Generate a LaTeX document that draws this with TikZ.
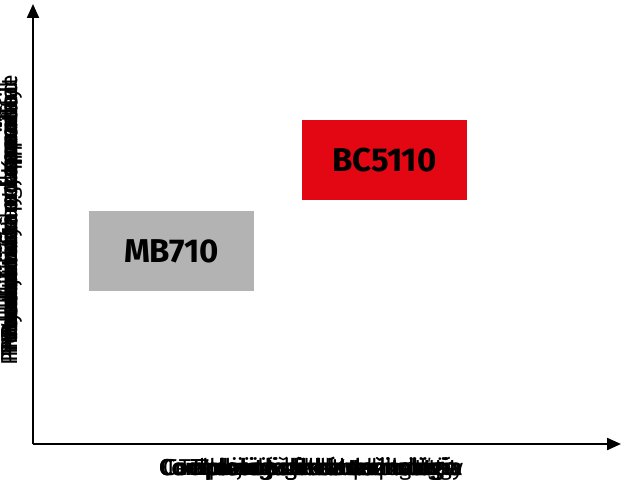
\documentclass[tikz,border=0pt]{standalone}
\usepackage{fontspec}
\setmainfont{Fira Sans}
\usetikzlibrary{arrows.meta}
\definecolor{boxgray}{HTML}{B3B3B3}
\definecolor{boxred}{HTML}{E30613}
\tikzset{
  axis/.style={line width=2.2pt, -{Triangle[length=14pt,width=12pt]}},
  prodbox/.style={minimum width=165pt, minimum height=80pt, inner sep=0pt,
    font=\fontsize{33}{35}\selectfont\bfseries},
  axlabel/.style={font=\fontsize{23}{24}\selectfont, inner sep=0pt}
}
\begin{document}
\begin{tikzpicture}[x=1pt,y=-1pt]
\useasboundingbox (0,0) rectangle (623,487);
\coordinate (o) at (33,444);
\coordinate (ytop) at (33,4);
\coordinate (xend) at (621,444);
\draw[axis] (o) -- (ytop);
\draw[axis] (o) -- (xend);
\node[prodbox, fill=boxgray] (mb) at (171.5,251) {MB710};
\node[prodbox, fill=boxred] (bc) at (384.5,160) {BC5110};
% overlapping multilingual axis labels
\foreach \t in {Complexity of the technology, Complexité de la technologie, Complejidad de la tecnología, Complessità della tecnologia, Complexidade da tecnologia, Technologische Komplexität, Złożoność technologii, Technologická složitost, Teknologisk kompleksitet, Technologická zložitosť}
  \node[axlabel] at (311,469) {\t};
\foreach \t in {Productivity and capacity, Productivité et capacité, Productividad y capacidad, Produttività e capacità, Produtividade e capacidade, Produktivität und Kapazität, Wydajność i pojemność, Produktivita a kapacita, Produktivitet og kapacitet, Produktivita a kapacita}
  \node[axlabel, rotate=90] at (11,220) {\t};
\end{tikzpicture}
\end{document}
